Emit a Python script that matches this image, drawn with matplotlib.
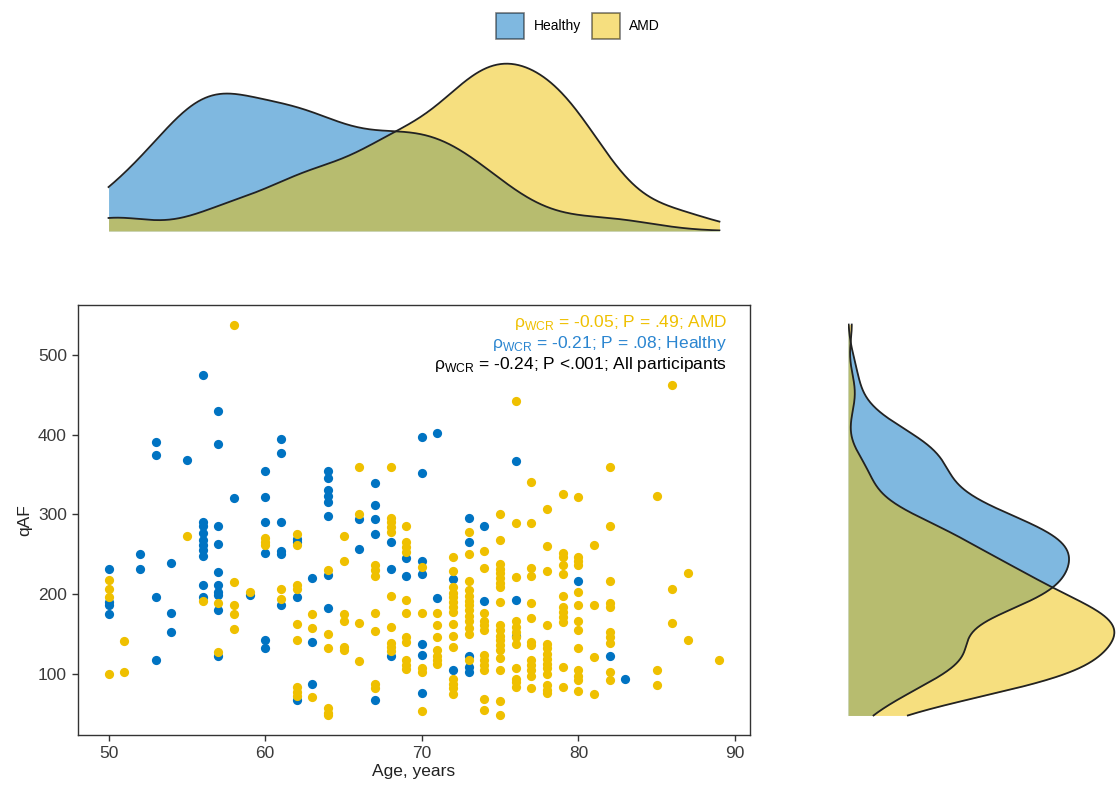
import matplotlib
matplotlib.use("Agg")

import numpy as np
import matplotlib.pyplot as plt
from matplotlib.patches import Patch

plt.rcParams["font.family"] = ["Liberation Sans", "DejaVu Sans"]
plt.rcParams["mathtext.fontset"] = "custom"
plt.rcParams["mathtext.rm"] = "Liberation Sans"

# qAF values by age (years) for each group
HEALTHY = {
    50: [232, 190, 186, 175],
    52: [250, 232],
    53: [391, 375, 197, 117],
    54: [239, 176, 153],
    55: [368],
    56: [475, 290, 285, 277, 268, 262, 256, 248, 212, 196],
    57: [430, 388, 285, 263, 228, 212, 203, 199, 180, 122],
    58: [320],
    59: [199],
    60: [355, 322, 291, 252, 142, 133],
    61: [394, 377, 290, 254, 250, 187],
    62: [269, 265, 197, 67],
    63: [220, 140, 87],
    64: [355, 346, 331, 323, 316, 298, 224, 183],
    66: [294, 257],
    67: [339, 312, 294, 275, 67],
    68: [266, 231, 122],
    69: [245, 223],
    70: [397, 352, 242, 225, 138, 124, 76],
    71: [402, 195],
    72: [219, 105],
    73: [296, 265, 123, 109, 102],
    74: [285, 191],
    76: [367, 193, 147],
    80: [216],
    82: [122],
    83: [94],
}

AMD = {
    50: [218, 207, 196, 100],
    51: [141, 102],
    55: [273],
    56: [191],
    57: [189, 128],
    58: [538, 215, 186, 175, 156],
    59: [203],
    60: [271, 266, 262],
    61: [207, 194],
    62: [276, 262, 211, 206, 163, 143, 84, 78, 72],
    63: [175, 157, 71],
    64: [230, 150, 132, 57, 51, 48],
    65: [273, 241, 175, 167, 134, 130],
    66: [359, 301, 164, 116],
    67: [236, 230, 223, 176, 154, 88, 82],
    68: [359, 296, 290, 284, 278, 198, 159, 139, 134, 129],
    69: [286, 265, 259, 253, 193, 177, 146, 140, 117, 111, 106],
    70: [234, 176, 107, 102, 53],
    71: [176, 161, 146, 130, 123, 117, 112],
    72: [247, 229, 209, 202, 196, 190, 184, 178, 163, 148, 134, 94, 88, 82, 75],
    73: [278, 250, 217, 205, 198, 192, 186, 180, 173, 167, 157, 150, 117],
    74: [254, 233, 177, 167, 161, 155, 124, 117, 111, 105, 69, 55],
    75: [300, 268, 238, 232, 226, 220, 214, 209, 190, 161, 155, 148, 142, 136,
         130, 120, 105, 66, 48],
    76: [442, 289, 222, 167, 159, 152, 146, 138, 107, 94, 90, 84],
    77: [341, 289, 233, 223, 189, 170, 140, 136, 117, 111, 105, 98, 82],
    78: [307, 260, 229, 161, 138, 132, 125, 119, 113, 107, 100, 86, 80, 76],
    79: [325, 252, 246, 236, 225, 198, 184, 178, 171, 165, 109, 84],
    80: [322, 247, 242, 236, 203, 186, 167, 155, 132, 105, 98, 93, 79],
    81: [262, 187, 121, 75],
    82: [359, 285, 216, 189, 184, 152, 146, 139, 102, 92],
    85: [323, 105, 86],
    86: [462, 207, 164],
    87: [226, 142],
    89: [118],
}

GROUPS = ["Healthy", "AMD"]
COLORS = {"Healthy": "#0073C2", "AMD": "#EFC000"}
STATS = [
    ("-0.05; P = .49; AMD", "#EFC000"),
    ("-0.21; P = .08; Healthy", "#2A85D0"),
    ("-0.24; P <.001; All participants", "black"),
]

W, H = 1118, 789


def flatten(d):
    ages, vals = [], []
    for a, vs in d.items():
        ages.extend([a] * len(vs))
        vals.extend(vs)
    return np.array(ages, float), np.array(vals, float)


def bw_nrd0(x):
    hi = np.std(x, ddof=1)
    q75, q25 = np.percentile(x, [75, 25])
    lo = min(hi, (q75 - q25) / 1.34)
    return 0.9 * lo * len(x) ** -0.2


def kde(x, grid):
    bw = bw_nrd0(x)
    z = (grid[:, None] - x[None, :]) / bw
    return np.exp(-0.5 * z ** 2).sum(axis=1) / (len(x) * bw * np.sqrt(2 * np.pi))


def box(l, t, r, b):
    return [l / W, 1 - b / H, (r - l) / W, (b - t) / H]


data = {"Healthy": flatten(HEALTHY), "AMD": flatten(AMD)}
all_age = np.concatenate([data[g][0] for g in GROUPS])
all_q = np.concatenate([data[g][1] for g in GROUPS])

xlim = (all_age.min() - 0.05 * np.ptp(all_age), all_age.max() + 0.05 * np.ptp(all_age))
ylim = (all_q.min() - 0.05 * np.ptp(all_q), all_q.max() + 0.05 * np.ptp(all_q))

fig = plt.figure(figsize=(W / 100, H / 100), dpi=100)

# main scatter
ax = fig.add_axes(box(78, 305, 750, 735))
for g in GROUPS:
    ax.scatter(data[g][0], data[g][1], s=44, color=COLORS[g], linewidths=0, zorder=3)
ax.set_xlim(xlim)
ax.set_ylim(ylim)
ax.set_xticks([50, 60, 70, 80, 90])
ax.set_yticks([100, 200, 300, 400, 500])
ax.tick_params(labelsize=12.5, colors="#333333", length=4.5, width=1, labelcolor="#3a3a3a")
for s in ax.spines.values():
    s.set_color("#333333")
    s.set_linewidth(1.0)
ax.set_xlabel("Age, years", fontsize=12.5, color="#222222", labelpad=2)
ax.set_ylabel("qAF", fontsize=12.5, color="#222222", labelpad=4)

for i, (txt, col) in enumerate(STATS):
    ax.text(0.966, 0.960 - i * 0.049, r"ρ$_{\mathrm{WCR}}$ = " + txt,
            transform=ax.transAxes, ha="right", va="center",
            fontsize=12.5, color=col)

# marginal densities
age_grid = np.linspace(all_age.min(), all_age.max(), 512)
q_grid = np.linspace(all_q.min(), all_q.max(), 512)

ax_top = fig.add_axes(box(78, 62, 750, 231))
ax_right = fig.add_axes(box(848, 305, 1117, 735))

top_max, right_max = 0, 0
for g in GROUPS:
    d_age = kde(data[g][0], age_grid)
    d_q = kde(data[g][1], q_grid)
    top_max = max(top_max, d_age.max())
    right_max = max(right_max, d_q.max())
    ax_top.fill_between(age_grid, 0, d_age, color=COLORS[g], alpha=0.5, linewidth=0)
    ax_top.plot(age_grid, d_age, color="#222222", lw=1.3)
    ax_right.fill_betweenx(q_grid, 0, d_q, color=COLORS[g], alpha=0.5, linewidth=0)
    ax_right.plot(d_q, q_grid, color="#222222", lw=1.3)

ax_top.set_xlim(xlim)
ax_top.set_ylim(0, top_max * 1.01)
ax_right.set_ylim(ylim)
ax_right.set_xlim(0, right_max * 1.01)
for a in (ax_top, ax_right):
    a.axis("off")

handles = [Patch(facecolor=COLORS[g], alpha=0.5, edgecolor="black", linewidth=1.2, label=g)
           for g in GROUPS]
fig.legend(handles=handles, loc="center", bbox_to_anchor=(578 / W, 1 - 26 / H), ncol=2,
           frameon=False, fontsize=10, handlelength=2.0, handleheight=2.5,
           columnspacing=0.8, handletextpad=0.7)

fig.savefig("out.png", dpi=100)
